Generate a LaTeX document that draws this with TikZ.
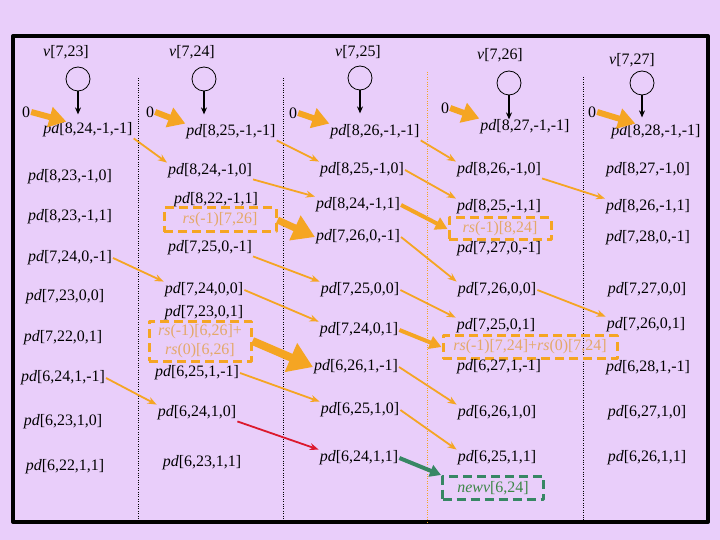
\documentclass[tikz,border=0pt]{standalone}
\usepackage{fontspec}
\setmainfont{Liberation Serif}
\usetikzlibrary{arrows.meta}
\definecolor{lavbg}{RGB}{233,206,250}
\definecolor{flowor}{RGB}{245,165,35}
\definecolor{boxtxt}{RGB}{228,168,105}
\definecolor{newgr}{RGB}{55,135,100}
\definecolor{newtxt}{RGB}{60,135,70}
\definecolor{redarr}{RGB}{220,25,45}
\newcommand{\pdv}[1]{\textit{pd}[#1]}
\newcommand{\rsv}[1]{\textit{rs}(#1)}
\begin{document}
\begin{tikzpicture}[x=1bp,y=-1bp,line join=round,font=\fontsize{16}{19}\selectfont,
		lbl/.style={inner sep=1bp},
		vert/.style={circle,draw,line width=0.8bp,minimum size=24bp,inner sep=0pt},
		down/.style={line width=1.2bp,-{Stealth[length=7bp,width=6bp]}},
		fl/.style={flowor,line width=1.8bp,-{Stealth[length=9bp,width=7bp]}},
		big/.style={flowor,line width=6bp,-{Triangle[length=17bp,width=20bp]}},
		mid/.style={flowor,line width=4bp,-{Triangle[length=12bp,width=13bp]}},
		rsbox/.style={draw=flowor,dash pattern=on 9bp off 5bp,line width=3bp,text=boxtxt,inner sep=1bp,align=center}]
	\fill[lavbg] (0,0) rectangle (720,540);
	\draw[line width=4bp] (13,36) rectangle (708,522);
	% column separators
	\draw[dotted] (138,78) -- (138,522);
	\draw[dotted] (283,78) -- (283,522);
	\draw[dotted,flowor] (427,72) -- (427,522);
	\draw[dotted] (583,77) -- (583,522);
	% vertices
	\node[lbl] (t1) at (66,52) {\textit{v}[7,23]};
	\node[lbl] (t2) at (192,52) {\textit{v}[7,24]};
	\node[lbl] (t3) at (358,52) {\textit{v}[7,25]};
	\node[lbl] (t4) at (500,55) {\textit{v}[7,26]};
	\node[lbl] (t5) at (632,60) {\textit{v}[7,27]};
	\node[vert] (v1) at (78,79) {};
	\node[vert] (v2) at (204,79) {};
	\node[vert] (v3) at (360,78) {};
	\node[vert] (v4) at (509,83) {};
	\node[vert] (v5) at (642,83) {};
	\draw[down] (v1.south) -- ++(0,23);
	\draw[down] (v2.south) -- ++(0,23);
	\draw[down] (v3.south) -- ++(0,23);
	\draw[down] (v4.south) -- ++(0,24);
	\draw[down] (v5.south) -- ++(0,22);
	\node[lbl] (z1) at (26,112) {0};
	\node[lbl] (z2) at (150,112) {0};
	\node[lbl] (z3) at (293,113) {0};
	\node[lbl] (z4) at (445,108) {0};
	\node[lbl] (z5) at (592,112) {0};
	% column 1
	\node[lbl] (a0) at (88,130) {\pdv{8,24,-1,-1}};
	\node[lbl] (a1) at (70,177) {\pdv{8,23,-1,0}};
	\node[lbl] (a2) at (70,217) {\pdv{8,23,-1,1}};
	\node[lbl] (a3) at (70,258) {\pdv{7,24,0,-1}};
	\node[lbl] (a4) at (65,297) {\pdv{7,23,0,0}};
	\node[lbl] (a5) at (63,338) {\pdv{7,22,0,1}};
	\node[lbl] (a6) at (63,378) {\pdv{6,24,1,-1}};
	\node[lbl] (a7) at (63,422) {\pdv{6,23,1,0}};
	\node[lbl] (a8) at (65,467) {\pdv{6,22,1,1}};
	% column 2
	\node[lbl] (b0) at (231,132) {\pdv{8,25,-1,-1}};
	\node[lbl] (b1) at (210,171) {\pdv{8,24,-1,0}};
	\node[lbl] (b2) at (216,200) {\pdv{8,22,-1,1}};
	\node[rsbox,minimum width=112bp,minimum height=24bp] (bx1) at (220,220) {\rsv{-1}[7,26]};
	\node[lbl] (b3) at (210,248) {\pdv{7,25,0,-1}};
	\node[lbl] (b4) at (204,290) {\pdv{7,24,0,0}};
	\node[lbl] (b5) at (204,313) {\pdv{7,23,0,1}};
	\node[rsbox,minimum width=102bp,minimum height=40bp] (bx2) at (200,341) {\rsv{-1}[6,26]+\\\rsv{0}[6,26]};
	\node[lbl] (b6) at (197,373) {\pdv{6,25,1,-1}};
	\node[lbl] (b7) at (197,413) {\pdv{6,24,1,0}};
	\node[lbl] (b8) at (202,463) {\pdv{6,23,1,1}};
	% column 3
	\node[lbl] (c0) at (375,132) {\pdv{8,26,-1,-1}};
	\node[lbl] (c1) at (362,170) {\pdv{8,25,-1,0}};
	\node[lbl] (c2) at (358,205) {\pdv{8,24,-1,1}};
	\node[lbl] (c3) at (358,237) {\pdv{7,26,0,-1}};
	\node[lbl] (c4) at (360,290) {\pdv{7,25,0,0}};
	\node[lbl] (c5) at (359,330) {\pdv{7,24,0,1}};
	\node[lbl] (c6) at (356,367) {\pdv{6,26,1,-1}};
	\node[lbl] (c7) at (360,410) {\pdv{6,25,1,0}};
	\node[lbl] (c8) at (359,458) {\pdv{6,24,1,1}};
	% column 4
	\node[lbl] (d0) at (525,127) {\pdv{8,27,-1,-1}};
	\node[lbl] (d1) at (499,170) {\pdv{8,26,-1,0}};
	\node[lbl] (d2) at (499,207) {\pdv{8,25,-1,1}};
	\node[rsbox,minimum width=102bp,minimum height=22bp] (dx1) at (500,229) {\rsv{-1}[8,24]};
	\node[lbl] (d3) at (499,249) {\pdv{7,27,0,-1}};
	\node[lbl] (d4) at (497,290) {\pdv{7,26,0,0}};
	\node[lbl] (d5) at (496,326) {\pdv{7,25,0,1}};
	\node[rsbox,minimum width=174bp,minimum height=23bp] (dx2) at (530,347) {\rsv{-1}[7,24]+\rsv{0}[7,24]};
	\node[lbl] (d6) at (499,367) {\pdv{6,27,1,-1}};
	\node[lbl] (d7) at (497,413) {\pdv{6,26,1,0}};
	\node[lbl] (d8) at (497,458) {\pdv{6,25,1,1}};
	\node[rsbox,draw=newgr,text=newtxt,minimum width=101bp,minimum height=23bp] (dx3) at (493,488) {\textit{newv}[6,24]};
	% column 5
	\node[lbl] (e0) at (656,132) {\pdv{8,28,-1,-1}};
	\node[lbl] (e1) at (648,170) {\pdv{8,27,-1,0}};
	\node[lbl] (e2) at (648,207) {\pdv{8,26,-1,1}};
	\node[lbl] (e3) at (648,238) {\pdv{7,28,0,-1}};
	\node[lbl] (e4) at (647,290) {\pdv{7,27,0,0}};
	\node[lbl] (e5) at (646,325) {\pdv{7,26,0,1}};
	\node[lbl] (e6) at (648,368) {\pdv{6,28,1,-1}};
	\node[lbl] (e7) at (647,413) {\pdv{6,27,1,0}};
	\node[lbl] (e8) at (647,458) {\pdv{6,26,1,1}};
	% initial values
	\draw[big] (z1.east) -- ([xshift=24bp]a0.north west);
	\draw[big] (z2.east) -- (b0.north west);
	\draw[big] (z3.east) -- (c0.north west);
	\draw[big] (z4.east) -- (d0.north west);
	\draw[big] (z5.east) -- ([xshift=25bp]e0.north west);
	% dependencies
	\draw[fl] (a0.south east) -- (b1.north west);
	\draw[fl] (b0.south east) -- (c1.north west);
	\draw[fl] (c0.south east) -- (d1.north west);
	\draw[fl] (b1.south east) -- (c2.north west);
	\draw[fl] (c1.east) -- (d2.north west);
	\draw[fl] (d1.south east) -- (e2.north west);
	\draw[fl] (a3.east) -- (b4.north west);
	\draw[fl] (b3.south east) -- (c4.north west);
	\draw[fl] (c3.east) -- (d4.north west);
	\draw[fl] (b4.east) -- (c5.north west);
	\draw[fl] (c4.east) -- (d5.north west);
	\draw[fl] (d4.east) -- (e5.north west);
	\draw[fl] (a6.east) -- (b7.north west);
	\draw[fl] (b6.east) -- (c7.north west);
	\draw[fl] (c6.east) -- (d7.north west);
	\draw[fl] (c7.east) -- (d8.north west);
	\draw[fl,redarr] (b7.south east) -- (c8.north west);
	\draw[newgr,line width=4bp,-{Triangle[length=11bp,width=12bp]}] (c8.east) -- (dx3.north west);
	% reductions
	\draw[big,line width=7bp,-{Triangle[length=22bp,width=26bp]}] (bx1.east) -- (c3.west);
	\draw[big,line width=8bp,-{Triangle[length=24bp,width=30bp]}] (bx2.east) -- (c6.west);
	\draw[mid] (c2.east) -- (dx1.west);
	\draw[mid] (c5.east) -- (dx2.west);
\end{tikzpicture}
\end{document}
